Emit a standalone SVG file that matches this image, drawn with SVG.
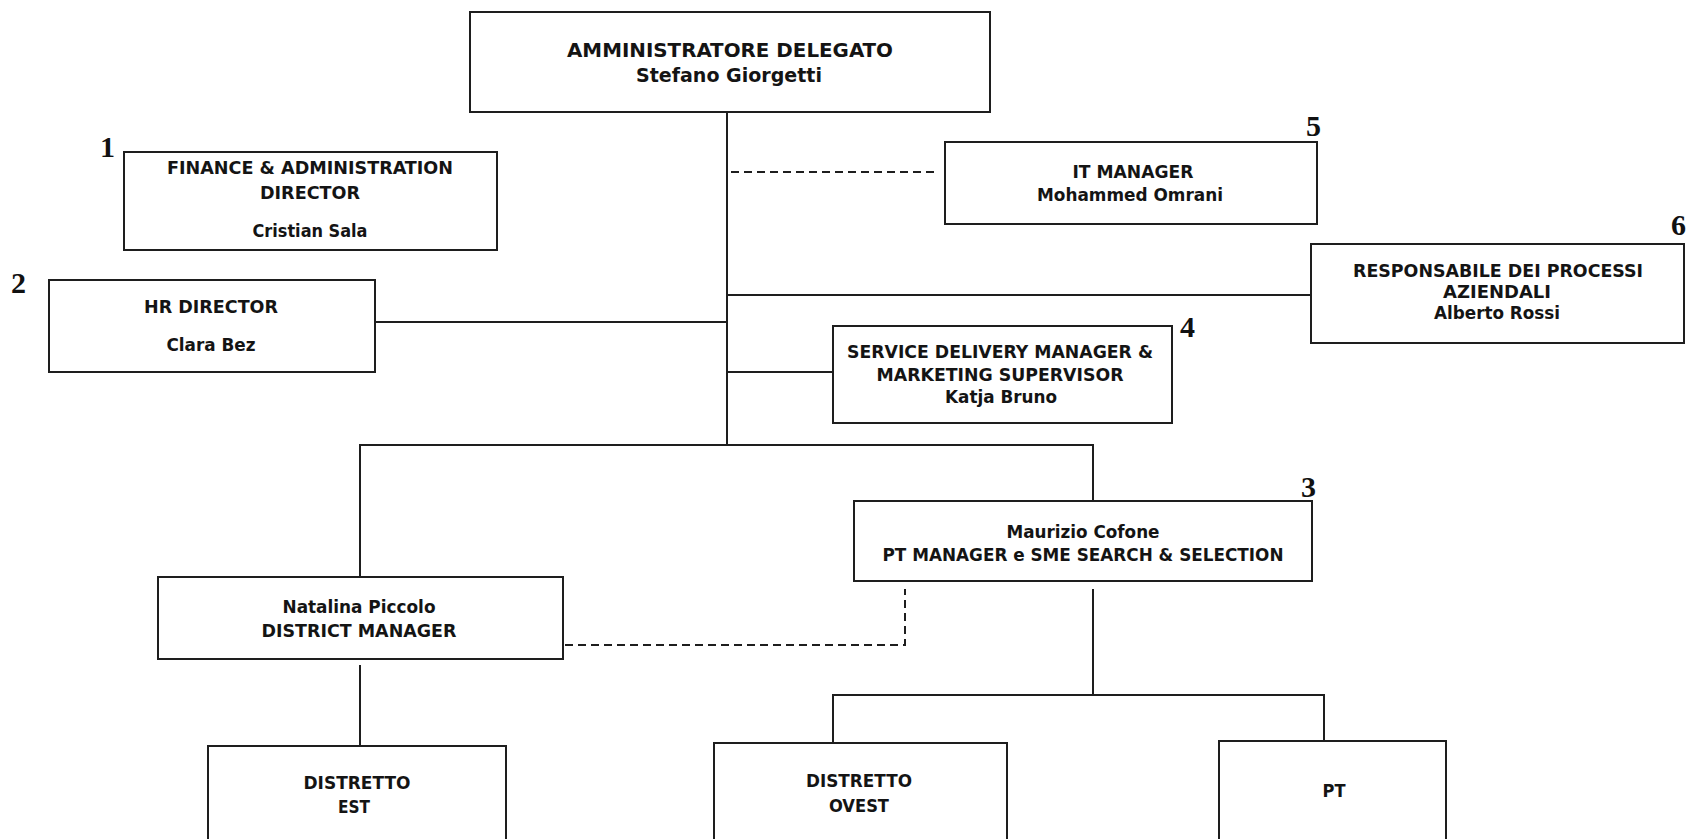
<svg xmlns="http://www.w3.org/2000/svg" width="1697" height="839" viewBox="0 0 1697 839">
<style>
.box{fill:#fff;stroke:#1e1e1e;stroke-width:2}
.t{font-family:"DejaVu Sans Condensed","DejaVu Sans","Liberation Sans",sans-serif;font-weight:bold;font-size:18px;fill:#141414;text-anchor:middle}
.big{font-size:19.5px}
.num{font-family:"Liberation Serif","DejaVu Serif",serif;font-weight:bold;font-size:30px;fill:#111}
.ln{fill:none;stroke:#1e1e1e;stroke-width:2}
.dash{fill:none;stroke:#1e1e1e;stroke-width:2;stroke-dasharray:8 5}
</style>
<rect width="1697" height="839" fill="#fff"/>
<g id="connectors">
<line class="ln" x1="727" y1="112" x2="727" y2="445"/>
<line class="dash" x1="731" y1="172" x2="937" y2="172"/>
<line class="ln" x1="375" y1="322" x2="727" y2="322"/>
<line class="ln" x1="727" y1="295" x2="1311" y2="295"/>
<line class="ln" x1="727" y1="372" x2="833" y2="372"/>
<polyline class="ln" points="360,577 360,445 1093,445 1093,501"/>
<line class="ln" x1="360" y1="665" x2="360" y2="746"/>
<polyline class="dash" points="565,645 905,645 905,589"/>
<line class="ln" x1="1093" y1="589" x2="1093" y2="695"/>
<polyline class="ln" points="833,743 833,695 1324,695 1324,741"/>
</g>
<g id="ceo">
<rect class="box" x="470" y="12" width="520" height="100"/>
<text class="t big" x="730" y="57" textLength="326" lengthAdjust="spacingAndGlyphs">AMMINISTRATORE DELEGATO</text>
<text class="t big" x="729" y="82" textLength="186" lengthAdjust="spacingAndGlyphs">Stefano Giorgetti</text>
</g>
<g id="finance">
<rect class="box" x="124" y="152" width="373" height="98"/>
<text class="num" x="100" y="157">1</text>
<text class="t" x="310" y="174" textLength="286" lengthAdjust="spacingAndGlyphs">FINANCE &amp; ADMINISTRATION</text>
<text class="t" x="310" y="199" textLength="100" lengthAdjust="spacingAndGlyphs">DIRECTOR</text>
<text class="t" x="310" y="237" textLength="115" lengthAdjust="spacingAndGlyphs">Cristian Sala</text>
</g>
<g id="hr">
<rect class="box" x="49" y="280" width="326" height="92"/>
<text class="num" x="11" y="293">2</text>
<text class="t" x="211" y="313" textLength="134" lengthAdjust="spacingAndGlyphs">HR DIRECTOR</text>
<text class="t" x="211" y="351" textLength="89" lengthAdjust="spacingAndGlyphs">Clara Bez</text>
</g>
<g id="it">
<rect class="box" x="945" y="142" width="372" height="82"/>
<text class="num" x="1306" y="136">5</text>
<text class="t" x="1133" y="178" textLength="121" lengthAdjust="spacingAndGlyphs">IT MANAGER</text>
<text class="t" x="1130" y="201" textLength="186" lengthAdjust="spacingAndGlyphs">Mohammed Omrani</text>
</g>
<g id="processi">
<rect class="box" x="1311" y="244" width="373" height="99"/>
<text class="num" x="1671" y="235">6</text>
<text class="t" x="1498" y="277" textLength="290" lengthAdjust="spacingAndGlyphs">RESPONSABILE DEI PROCESSI</text>
<text class="t" x="1497" y="298" textLength="108" lengthAdjust="spacingAndGlyphs">AZIENDALI</text>
<text class="t" x="1497" y="319" textLength="126" lengthAdjust="spacingAndGlyphs">Alberto Rossi</text>
</g>
<g id="service">
<rect class="box" x="833" y="326" width="339" height="97"/>
<text class="num" x="1180" y="337">4</text>
<text class="t" x="1000" y="358" textLength="306" lengthAdjust="spacingAndGlyphs">SERVICE DELIVERY MANAGER &amp;</text>
<text class="t" x="1000" y="381" textLength="247" lengthAdjust="spacingAndGlyphs">MARKETING SUPERVISOR</text>
<text class="t" x="1001" y="403" textLength="112" lengthAdjust="spacingAndGlyphs">Katja Bruno</text>
</g>
<g id="district-manager">
<rect class="box" x="158" y="577" width="405" height="82"/>
<text class="t" x="359" y="613" textLength="153" lengthAdjust="spacingAndGlyphs">Natalina Piccolo</text>
<text class="t" x="359" y="637" textLength="195" lengthAdjust="spacingAndGlyphs">DISTRICT MANAGER</text>
</g>
<g id="pt-manager">
<rect class="box" x="854" y="501" width="458" height="80"/>
<text class="num" x="1301" y="497">3</text>
<text class="t" x="1083" y="538" textLength="153" lengthAdjust="spacingAndGlyphs">Maurizio Cofone</text>
<text class="t" x="1083" y="561" textLength="401" lengthAdjust="spacingAndGlyphs">PT MANAGER e SME SEARCH &amp; SELECTION</text>
</g>
<g id="distretto-est">
<rect class="box" x="208" y="746" width="298" height="110"/>
<text class="t" x="357" y="789" textLength="107" lengthAdjust="spacingAndGlyphs">DISTRETTO</text>
<text class="t" x="354" y="813" textLength="32" lengthAdjust="spacingAndGlyphs">EST</text>
</g>
<g id="distretto-ovest">
<rect class="box" x="714" y="743" width="293" height="110"/>
<text class="t" x="859" y="787" textLength="106" lengthAdjust="spacingAndGlyphs">DISTRETTO</text>
<text class="t" x="859" y="812" textLength="60" lengthAdjust="spacingAndGlyphs">OVEST</text>
</g>
<g id="pt">
<rect class="box" x="1219" y="741" width="227" height="110"/>
<text class="t" x="1334" y="797" textLength="23" lengthAdjust="spacingAndGlyphs">PT</text>
</g>
</svg>
